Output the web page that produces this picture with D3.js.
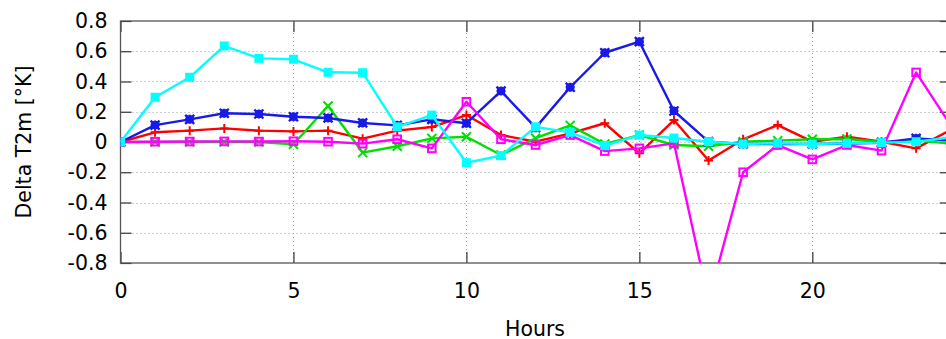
<!DOCTYPE html>
<html><head><meta charset="utf-8">
<script src="https://cdn.jsdelivr.net/npm/d3@7"></script>
<style>body{margin:0;background:#fff}svg{display:block}text{font-family:"DejaVu Sans",sans-serif}</style>
</head><body>
<svg id="c" width="946" height="339"></svg>
<script>
const hours = d3.range(0, 25);
const xTicks = [0, 5, 10, 15, 20];
const yTicks = [0.8, 0.6, 0.4, 0.2, 0, -0.2, -0.4, -0.6, -0.8];
const yTickLabels = ["0.8", "0.6", "0.4", "0.2", "0", "-0.2", "-0.4", "-0.6", "-0.8"];
const red = [0, 0.064, 0.075, 0.09, 0.075, 0.07, 0.075, 0.022, 0.075, 0.099, 0.178, 0.046, 0.002, 0.057, 0.124, -0.075, 0.145, -0.122, 0.018, 0.112, 0.002, 0.035, 0.002, -0.042, 0.08];
const green = [0, 0, 0, 0, 0, -0.015, 0.238, -0.07, -0.028, 0.024, 0.035, -0.086, 0.025, 0.11, -0.013, 0.046, -0.02, -0.028, 0.002, 0.009, 0.018, 0.02, 0, 0.01, -0.01];
const blue = [0, 0.112, 0.15, 0.19, 0.185, 0.167, 0.159, 0.126, 0.11, 0.15, 0.124, 0.337, 0.095, 0.362, 0.59, 0.663, 0.205, 0.002, -0.013, -0.013, -0.013, -0.01, -0.005, 0.024, 0.01];
const magenta = [0, 0.002, 0.003, 0.004, 0.003, 0.005, 0.002, -0.011, 0.018, -0.042, 0.266, 0.018, -0.02, 0.046, -0.06, -0.042, -0.009, -1.05, -0.2, -0.02, -0.115, -0.02, -0.057, 0.46, 0.11];
const cyan = [0, 0.296, 0.428, 0.635, 0.553, 0.547, 0.461, 0.458, 0.1, 0.178, -0.137, -0.09, 0.1, 0.064, -0.024, 0.046, 0.026, 0.002, -0.013, -0.009, -0.013, -0.009, -0.004, 0.002, 0.03];
const seriesNames = ["red", "green", "blue", "magenta", "cyan"];
const seriesValues = [red, green, blue, magenta, cyan];
const seriesColors = ["#ff0000", "#00e000", "#1a1ae8", "#ff00ff", "#00ffff"];
const seriesMarkers = ["plus", "cross", "star", "openSquare", "filledSquare"];

const L = 120.5, R = 950.7, T = 21, B = 263;
const svg = d3.select("#c");
const x = d3.scaleLinear().domain([0, 24]).range([L, R]);
const y = d3.scaleLinear().domain([-0.8, 0.8]).range([B, T]);

// grid
const grid = svg.append("g").attr("stroke", "#a0a0a0").attr("stroke-width", 1).attr("stroke-dasharray", "1,3");
grid.selectAll(".gy").data(yTicks.filter(v => v > -0.8 && v < 0.8)).join("line")
  .attr("x1", L).attr("x2", R).attr("y1", d => Math.round(y(d)) + 0.5).attr("y2", d => Math.round(y(d)) + 0.5);
grid.selectAll(".gx").data(xTicks.filter(v => v > 0)).join("line")
  .attr("y1", T).attr("y2", B).attr("x1", d => Math.round(x(d)) + 0.5).attr("x2", d => Math.round(x(d)) + 0.5);

// axes via d3
const yAxisL = d3.axisLeft(y).tickValues(yTicks).tickSize(-11).tickFormat((d, i) => yTickLabels[i]).tickPadding(14);
const gyl = svg.append("g").attr("transform", `translate(${L},0)`).call(yAxisL);
const yAxisR = d3.axisRight(y).tickValues(yTicks).tickSize(-11).tickFormat("");
svg.append("g").attr("transform", `translate(${R},0)`).call(yAxisR);
const xAxisB = d3.axisBottom(x).tickValues(xTicks).tickSize(-11).tickFormat(d3.format("d"));
const gxb = svg.append("g").attr("transform", `translate(0,${B})`).call(xAxisB);
const xAxisT = d3.axisTop(x).tickValues(xTicks).tickSize(-11).tickFormat("");
svg.append("g").attr("transform", `translate(0,${T})`).call(xAxisT);
svg.selectAll(".domain").remove();
svg.selectAll(".tick line").attr("stroke", "#333").attr("stroke-width", 1.2);
svg.selectAll(".tick text").attr("font-size", 20.5).attr("fill", "#000").attr("font-family", "DejaVu Sans");
gyl.selectAll(".tick text").attr("x", -13);
gxb.selectAll(".tick text").attr("y", 34.5).attr("dy", 0);

// border
svg.append("rect").attr("x", L).attr("y", T).attr("width", R - L).attr("height", B - T)
  .attr("fill", "none").attr("stroke", "#555").attr("stroke-width", 1.3);

// clip
svg.append("clipPath").attr("id", "clip").append("rect").attr("x", L).attr("y", T).attr("width", R - L).attr("height", B - T);
const plot = svg.append("g").attr("clip-path", "url(#clip)");
const line = d3.line().x((d, i) => x(hours[i])).y(d => y(d));

function marker(g, type, color) {
  const s = 4.5;
  if (type === "plus") {
    g.append("path").attr("d", `M${-s},0H${s}M0,${-s}V${s}`).attr("stroke", color).attr("stroke-width", 2).attr("fill", "none");
  } else if (type === "cross") {
    g.append("path").attr("d", `M${-s},${-s}L${s},${s}M${-s},${s}L${s},${-s}`).attr("stroke", color).attr("stroke-width", 2).attr("fill", "none");
  } else if (type === "star") {
    g.append("rect").attr("x", -4).attr("y", -4).attr("width", 8).attr("height", 8).attr("fill", color);
    g.append("path").attr("d", `M${-s},0H${s}M0,${-s}V${s}M${-s},${-s}L${s},${s}M${-s},${s}L${s},${-s}`).attr("stroke", color).attr("stroke-width", 2.4).attr("fill", "none");
  } else if (type === "openSquare") {
    g.append("rect").attr("x", -3.8).attr("y", -3.8).attr("width", 7.6).attr("height", 7.6).attr("fill", "none").attr("stroke", color).attr("stroke-width", 2);
  } else {
    g.append("rect").attr("x", -4.5).attr("y", -4.5).attr("width", 9).attr("height", 9).attr("fill", color);
  }
}

seriesValues.forEach((vals, si) => {
  const c = seriesColors[si];
  const g = plot.append("g").attr("class", "series-" + seriesNames[si]);
  g.append("path").datum(vals).attr("d", line).attr("fill", "none").attr("stroke", c).attr("stroke-width", 2.4).attr("stroke-linejoin", "round");
  vals.forEach((v, i) => {
    const m = g.append("g").attr("transform", `translate(${x(hours[i])},${y(v)})`);
    marker(m, seriesMarkers[si], c);
  });
});

// labels
svg.append("text").attr("x", 535).attr("y", 336).attr("text-anchor", "middle").attr("font-size", 20.5).text("Hours");
svg.append("text").attr("transform", `translate(31,${(T + B) / 2}) rotate(-90)`).attr("text-anchor", "middle").attr("font-size", 20.5).text("Delta T2m [°K]");
</script>
</body></html>
